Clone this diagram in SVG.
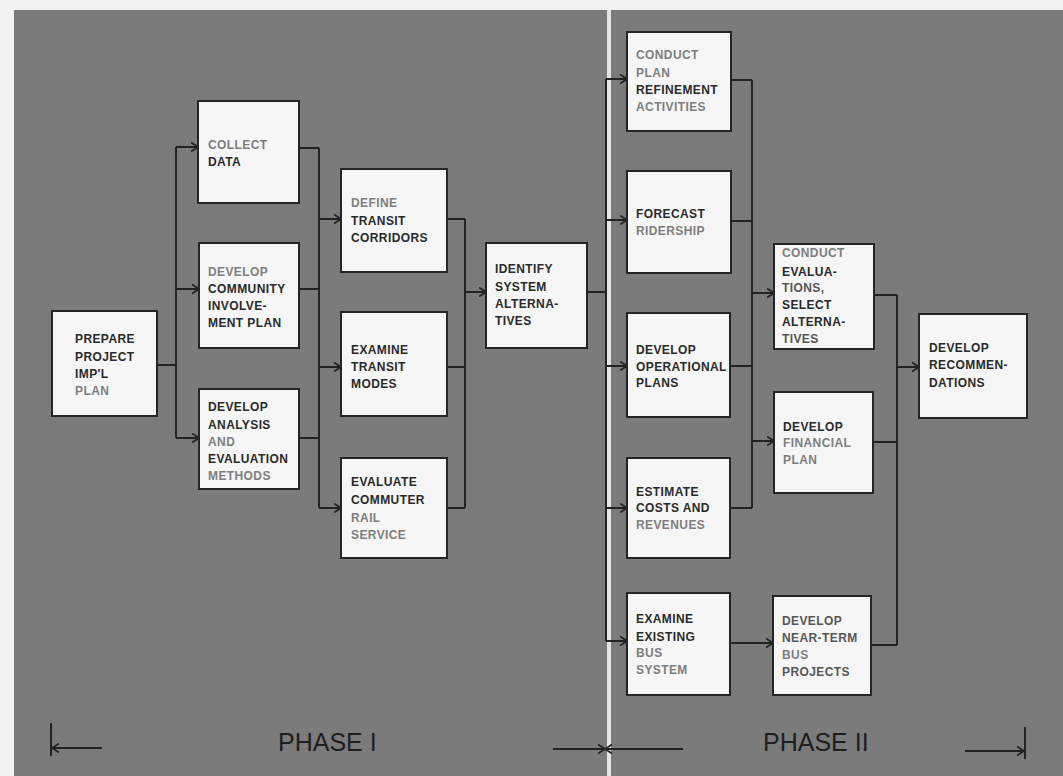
<svg xmlns="http://www.w3.org/2000/svg" width="1063" height="776" viewBox="0 0 1063 776">
<style>
.box{fill:#f6f6f6;stroke:#252525;stroke-width:2}
text{font-family:"Liberation Sans",Arial,sans-serif}
.n text{font-size:12px;font-weight:bold;letter-spacing:0.4px}
.t{fill:#2a2a2a}
.m{fill:#565656}
.f{fill:#7e7e7e}
.c path{fill:none;stroke:#232323;stroke-width:2}
.ph{font-size:25px;fill:#1e1e1e}
</style>
<defs>
<marker id="ah" viewBox="0 0 8 10" refX="7.5" refY="5" markerWidth="8" markerHeight="10" markerUnits="userSpaceOnUse" orient="auto">
<path d="M0.5,0.5 L7.5,5 L0.5,9.5" fill="none" stroke="#232323" stroke-width="1.8"/>
</marker>
</defs>
<rect x="0" y="0" width="1063" height="776" fill="#f2f2f2"/>
<rect x="14" y="10" width="1049" height="766" fill="#7b7b7b"/>
<rect x="607" y="10" width="4" height="766" fill="#e6e6e6"/>

<g id="connectors" class="c">
<path d="M157,365 H176 M176,147 V438"/>
<path d="M176,147 H198" marker-end="url(#ah)"/>
<path d="M176,289 H199" marker-end="url(#ah)"/>
<path d="M176,438 H199" marker-end="url(#ah)"/>
<path d="M299,148 H319 M299,289 H319 M299,438 H319 M319,148 V508"/>
<path d="M319,219 H341" marker-end="url(#ah)"/>
<path d="M319,367 H341" marker-end="url(#ah)"/>
<path d="M319,508 H341" marker-end="url(#ah)"/>
<path d="M447,219 H465 M447,367 H465 M447,508 H465 M465,219 V508"/>
<path d="M465,292 H486" marker-end="url(#ah)"/>
<path d="M587,292 H606 M606,79 V641"/>
<path d="M606,79 H627" marker-end="url(#ah)"/>
<path d="M606,220 H627" marker-end="url(#ah)"/>
<path d="M606,366 H627" marker-end="url(#ah)"/>
<path d="M606,508 H627" marker-end="url(#ah)"/>
<path d="M606,641 H627" marker-end="url(#ah)"/>
<path d="M731,80 H752 M731,221 H752 M730,366 H752 M730,508 H752 M752,80 V508"/>
<path d="M752,293 H774" marker-end="url(#ah)"/>
<path d="M752,441 H774" marker-end="url(#ah)"/>
<path d="M730,643 H773" marker-end="url(#ah)"/>
<path d="M874,295 H897 M873,442 H897 M871,645 H897 M897,295 V645"/>
<path d="M897,367 H919" marker-end="url(#ah)"/>
<path d="M102,748 H52" marker-end="url(#ah)"/>
<path d="M51,723 V756"/>
<path d="M553,749 H605" marker-end="url(#ah)"/>
<path d="M683,749 H605" marker-end="url(#ah)"/>
<path d="M965,751 H1024" marker-end="url(#ah)"/>
<path d="M1025,727 V759"/>
</g>

<g id="prepare" class="n">
<rect class="box" x="52" y="311" width="105" height="105"/>
<text x="75" y="343" class="t">PREPARE</text>
<text x="75" y="361" class="t">PROJECT</text>
<text x="75" y="378" class="t">IMP'L</text>
<text x="75" y="395" class="f">PLAN</text>
</g>
<g id="collect" class="n">
<rect class="box" x="198" y="101" width="101" height="102"/>
<text x="208" y="149" class="f">COLLECT</text>
<text x="208" y="166" class="t">DATA</text>
</g>
<g id="community" class="n">
<rect class="box" x="199" y="243" width="100" height="105"/>
<text x="208" y="276" class="f">DEVELOP</text>
<text x="208" y="293" class="t">COMMUNITY</text>
<text x="208" y="310" class="t">INVOLVE-</text>
<text x="208" y="327" class="t">MENT PLAN</text>
</g>
<g id="analysis" class="n">
<rect class="box" x="199" y="389" width="100" height="100"/>
<text x="208" y="411" class="t">DEVELOP</text>
<text x="208" y="429" class="t">ANALYSIS</text>
<text x="208" y="446" class="f">AND</text>
<text x="208" y="463" class="t">EVALUATION</text>
<text x="208" y="480" class="f">METHODS</text>
</g>
<g id="corridors" class="n">
<rect class="box" x="341" y="169" width="106" height="103"/>
<text x="351" y="207" class="f">DEFINE</text>
<text x="351" y="225" class="t">TRANSIT</text>
<text x="351" y="242" class="t">CORRIDORS</text>
</g>
<g id="modes" class="n">
<rect class="box" x="341" y="312" width="106" height="104"/>
<text x="351" y="354" class="t">EXAMINE</text>
<text x="351" y="371" class="t">TRANSIT</text>
<text x="351" y="388" class="t">MODES</text>
</g>
<g id="commuter" class="n">
<rect class="box" x="341" y="458" width="106" height="100"/>
<text x="351" y="486" class="t">EVALUATE</text>
<text x="351" y="504" class="t">COMMUTER</text>
<text x="351" y="522" class="f">RAIL</text>
<text x="351" y="539" class="f">SERVICE</text>
</g>
<g id="identify" class="n">
<rect class="box" x="486" y="243" width="101" height="105"/>
<text x="495" y="273" class="t">IDENTIFY</text>
<text x="495" y="291" class="t">SYSTEM</text>
<text x="495" y="308" class="t">ALTERNA-</text>
<text x="495" y="325" class="t">TIVES</text>
</g>
<g id="refinement" class="n">
<rect class="box" x="627" y="32" width="104" height="99"/>
<text x="636" y="59" class="f">CONDUCT</text>
<text x="636" y="77" class="f">PLAN</text>
<text x="636" y="94" class="t">REFINEMENT</text>
<text x="636" y="111" class="f">ACTIVITIES</text>
</g>
<g id="ridership" class="n">
<rect class="box" x="627" y="171" width="104" height="102"/>
<text x="636" y="218" class="t">FORECAST</text>
<text x="636" y="235" class="f">RIDERSHIP</text>
</g>
<g id="operational" class="n">
<rect class="box" x="627" y="313" width="103" height="104"/>
<text x="636" y="354" class="t">DEVELOP</text>
<text x="636" y="371" class="t">OPERATIONAL</text>
<text x="636" y="387" class="t">PLANS</text>
</g>
<g id="costs" class="n">
<rect class="box" x="627" y="458" width="103" height="100"/>
<text x="636" y="496" class="t">ESTIMATE</text>
<text x="636" y="512" class="t">COSTS AND</text>
<text x="636" y="529" class="f">REVENUES</text>
</g>
<g id="existing" class="n">
<rect class="box" x="627" y="593" width="103" height="102"/>
<text x="636" y="623" class="t">EXAMINE</text>
<text x="636" y="641" class="t">EXISTING</text>
<text x="636" y="657" class="f">BUS</text>
<text x="636" y="674" class="f">SYSTEM</text>
</g>
<g id="evaluations" class="n">
<rect class="box" x="774" y="244" width="100" height="105"/>
<text x="782" y="257" class="f">CONDUCT</text>
<text x="782" y="276" class="t">EVALUA-</text>
<text x="782" y="292" class="m">TIONS,</text>
<text x="782" y="309" class="t">SELECT</text>
<text x="782" y="326" class="t">ALTERNA-</text>
<text x="782" y="343" class="m">TIVES</text>
</g>
<g id="financial" class="n">
<rect class="box" x="774" y="392" width="99" height="101"/>
<text x="783" y="431" class="t">DEVELOP</text>
<text x="783" y="447" class="f">FINANCIAL</text>
<text x="783" y="464" class="f">PLAN</text>
</g>
<g id="nearterm" class="n">
<rect class="box" x="773" y="596" width="98" height="99"/>
<text x="782" y="625" class="m">DEVELOP</text>
<text x="782" y="642" class="m">NEAR-TERM</text>
<text x="782" y="659" class="f">BUS</text>
<text x="782" y="676" class="m">PROJECTS</text>
</g>
<g id="recommendations" class="n">
<rect class="box" x="919" y="314" width="108" height="104"/>
<text x="929" y="352" class="t">DEVELOP</text>
<text x="929" y="369" class="t">RECOMMEN-</text>
<text x="929" y="387" class="t">DATIONS</text>
</g>

<g id="phases">
<text class="ph" x="278" y="751">PHASE I</text>
<text class="ph" x="763" y="751">PHASE II</text>
</g>
</svg>
